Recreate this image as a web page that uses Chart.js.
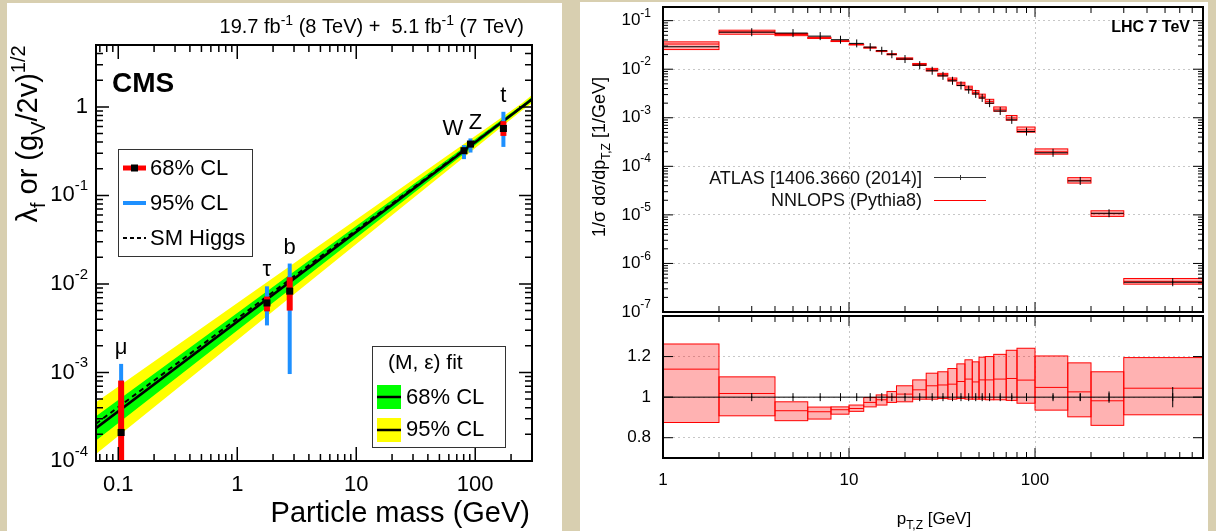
<!DOCTYPE html>
<html>
<head>
<meta charset="utf-8">
<title>couplings and Z pT</title>
<script src="https://cdn.jsdelivr.net/npm/chart.js"></script>
<style>
  html, body { margin: 0; padding: 0; }
  body { width: 1216px; height: 531px; background: #d8cfb0; position: relative; overflow: hidden; }
  .panel { position: absolute; background: #fff; }
  canvas { position: absolute; }
</style>
</head>
<body>
<div class="panel" style="left:7px;top:3px;width:555px;height:528px"></div>
<div class="panel" style="left:580px;top:2px;width:628px;height:529px"></div>
<canvas id="cms" width="555" height="528" style="left:7px;top:3px"></canvas>
<canvas id="spec" width="628" height="315" style="left:580px;top:2px"></canvas>
<canvas id="ratio" width="628" height="221" style="left:580px;top:310px"></canvas>
<script>
const FONT = '"Liberation Sans", Arial, sans-serif'

// ---- left: coupling vs particle mass
const particles = ['μ', 'τ', 'b', 'W', 'Z', 't']
const particleMass = [0.1057, 1.777, 2.76, 80.4, 91.19, 172.5]
const coupling = [2.1e-4, 6.1e-3, 8.3e-3, 0.32, 0.38, 0.57]
const cl68Lo = [5e-5, 4.9e-3, 5.0e-3, 0.30, 0.36, 0.47]
const cl68Hi = [8.1e-4, 7.2e-3, 1.19e-2, 0.34, 0.40, 0.69]
const cl95Lo = [5e-5, 3.4e-3, 9.6e-4, 0.257, 0.305, 0.353]
const cl95Hi = [1.25e-3, 9.4e-3, 1.7e-2, 0.37, 0.44, 0.88]

const bandMass = [0.065, 246.6, 300]
const fitLine = [2.35e-4, 1.0, 1.22]
const smLine = [2.64e-4, 1.0, 1.22]
const greenHi = [3.2e-4, 1.05, 1.29]
const greenLo = [1.7e-4, 0.955, 1.16]
const yellowHi = [4.6e-4, 1.10, 1.36]
const yellowLo = [1.2e-4, 0.91, 1.10]

// ---- right: Z pT spectrum, ATLAS vs NNLOPS
const binEdges = [0, 2, 4, 6, 8, 10, 12, 14, 16, 18, 22, 26, 30, 34, 38, 42, 46, 50, 54, 60, 70, 80, 100, 150, 200, 300, 800]
const atlasXsec = [0.0290, 0.0578, 0.0555, 0.0480, 0.0405, 0.0340, 0.0285, 0.0240, 0.0203, 0.0162, 0.0121, 0.00930, 0.00730,
  0.00578, 0.00462, 0.00378, 0.00310, 0.00256, 0.00200, 0.00138, 0.000905, 0.000520, 0.000190, 5.0e-5, 1.08e-5, 4.1e-7]
const atlasRelErr = [0.010, 0.004, 0.004, 0.004, 0.004, 0.004, 0.004, 0.004, 0.004, 0.005, 0.005, 0.005, 0.005,
  0.006, 0.006, 0.006, 0.006, 0.007, 0.007, 0.008, 0.009, 0.010, 0.012, 0.018, 0.028, 0.050]
const nnlopsRatio = [1.138, 1.018, 0.933, 0.928, 0.938, 0.944, 0.974, 0.987, 1.000, 1.015, 1.036, 1.056, 1.060,
  1.064, 1.077, 1.089, 1.075, 1.085, 1.085, 1.089, 1.092, 1.084, 1.048, 1.026, 0.982, 1.044]
const nnlopsLo = [0.875, 0.908, 0.884, 0.892, 0.916, 0.930, 0.952, 0.961, 0.974, 0.977, 0.990, 0.990, 0.993,
  0.990, 0.993, 0.990, 0.990, 0.990, 0.987, 0.987, 0.984, 0.970, 0.936, 0.903, 0.861, 0.913]
const nnlopsHi = [1.262, 1.100, 0.977, 0.951, 0.952, 0.961, 0.998, 1.011, 1.028, 1.056, 1.085, 1.118, 1.125,
  1.141, 1.164, 1.184, 1.174, 1.197, 1.200, 1.211, 1.231, 1.241, 1.203, 1.169, 1.125, 1.195]

const PT_MIN = 1, PT_MAX = 800

Chart.defaults.font.family = FONT
Chart.defaults.color = '#000'
Chart.defaults.animation = false
Chart.defaults.events = []
Chart.defaults.plugins.legend.display = false
Chart.defaults.plugins.tooltip.enabled = false

const pts = (xs, ys) => xs.map((x, i) => ({ x, y: ys[i] }))
const binCenters = atlasXsec.map((v, i) => (binEdges[i] + binEdges[i + 1]) / 2)

// one horizontal piece per bin, broken by a null
function binSegs(vals) {
  const out = []
  vals.forEach((v, i) => {
    out.push({ x: Math.max(binEdges[i], PT_MIN), y: v }, { x: binEdges[i + 1], y: v }, { x: binEdges[i + 1], y: null })
  })
  return out
}
function vSegs(xs, lo, hi) {
  const out = []
  xs.forEach((x, i) => { out.push({ x, y: lo[i] }, { x, y: hi[i] }, { x, y: null }) })
  return out
}

function logTicks(min, max) {
  const out = []
  for (let e = Math.floor(Math.log10(min)); e <= Math.floor(Math.log10(max)); e++) {
    for (let k = 1; k < 10; k++) {
      const v = k * Math.pow(10, e)
      if (v >= min * 0.9999 && v <= max * 1.0001) out.push({ v, major: k === 1 })
    }
  }
  return out
}
const decadeTicks = (min, max) => logTicks(min, max).filter(t => t.major).map(t => ({ value: t.v }))
function plain(v) {
  const e = Math.round(Math.log10(v))
  return e >= 0 ? String(Math.round(v)) : v.toFixed(-e)
}
// fixed axis size, no extra label padding
function fixSize(w, h) {
  return s => {
    if (w != null) s.width = w
    if (h != null) s.height = h
    s.paddingTop = 0; s.paddingBottom = 0; s.paddingLeft = 0; s.paddingRight = 0
  }
}

// text with sub/superscripts, parts = [[text, 'sub'|'sup'|undefined], ...]
function rich(ctx, parts, x, y, size, align) {
  const small = Math.round(size * 0.68)
  let w = 0
  parts.forEach(p => { ctx.font = (p[1] ? small : size) + 'px ' + FONT; w += ctx.measureText(p[0]).width })
  let cx = align === 'right' ? x - w : align === 'center' ? x - w / 2 : x
  ctx.textAlign = 'left'
  parts.forEach(p => {
    ctx.font = (p[1] ? small : size) + 'px ' + FONT
    const dy = p[1] === 'sup' ? -size * 0.42 : p[1] === 'sub' ? size * 0.28 : 0
    ctx.fillText(p[0], cx, y + dy)
    cx += ctx.measureText(p[0]).width
  })
}

function frameAndTicks(chart, xt, yt, o) {
  const { ctx, chartArea: a, scales: { x, y } } = chart
  ctx.save()
  ctx.strokeStyle = '#000'
  ctx.lineWidth = o.tick
  ctx.beginPath()
  xt.forEach(t => {
    const px = x.getPixelForValue(t.v)
    const l = t.major ? o.xMajor : o.xMinor
    ctx.moveTo(px, a.bottom); ctx.lineTo(px, a.bottom - l)
    ctx.moveTo(px, a.top); ctx.lineTo(px, a.top + l)
  })
  yt.forEach(t => {
    const py = y.getPixelForValue(t.v)
    const l = t.major ? o.yMajor : o.yMinor
    ctx.moveTo(a.left, py); ctx.lineTo(a.left + l, py)
    ctx.moveTo(a.right, py); ctx.lineTo(a.right - l, py)
  })
  ctx.stroke()
  ctx.lineWidth = o.frame
  ctx.strokeRect(a.left, a.top, a.right - a.left, a.bottom - a.top)
  ctx.restore()
}

function logLabels(chart, size, rightX) {
  const { ctx, scales: { y } } = chart
  ctx.fillStyle = '#000'
  ctx.textBaseline = 'middle'
  logTicks(y.min, y.max).filter(t => t.major).forEach(t => {
    const e = Math.round(Math.log10(t.v))
    const py = y.getPixelForValue(t.v)
    if (e === 0) rich(ctx, [['1']], rightX, py, size, 'right')
    else rich(ctx, [['10'], [String(e), 'sup']], rightX, py, size, 'right')
  })
}

// ---------------- left chart
const cmsSets = [
  { data: pts(particleMass, coupling), showLine: false, pointStyle: 'rect', pointRadius: 5,
    pointBackgroundColor: '#000', pointBorderWidth: 0, order: 0 },
  ...particleMass.map((m, i) => ({ data: [{ x: m, y: cl68Lo[i] }, { x: m, y: cl68Hi[i] }],
    borderColor: '#ff0000', borderWidth: 6, pointRadius: 0, order: 1 })),
  ...particleMass.map((m, i) => ({ data: [{ x: m, y: cl95Lo[i] }, { x: m, y: cl95Hi[i] }],
    borderColor: '#1e90ff', borderWidth: 4, pointRadius: 0, order: 2 })),
  { data: pts(bandMass, smLine), borderColor: '#000', borderWidth: 2, borderDash: [5, 4], pointRadius: 0, order: 3 },
  { data: pts(bandMass, fitLine), borderColor: '#000', borderWidth: 2.5, pointRadius: 0, order: 4 },
  { data: pts(bandMass, greenHi), borderColor: 'transparent', pointRadius: 0, order: 5 },
  { data: pts(bandMass, greenLo), borderColor: 'transparent', pointRadius: 0, fill: '-1', backgroundColor: '#00ff00', order: 5 },
  { data: pts(bandMass, yellowHi), borderColor: 'transparent', pointRadius: 0, order: 6 },
  { data: pts(bandMass, yellowLo), borderColor: 'transparent', pointRadius: 0, fill: '-1', backgroundColor: '#ffff00', order: 6 }
]

const cmsDecor = {
  id: 'cmsDecor',
  afterDatasetsDraw(chart) {
    const { ctx, scales: { x, y } } = chart
    frameAndTicks(chart, logTicks(x.min, x.max), logTicks(y.min, y.max),
      { tick: 1.5, frame: 2, xMajor: 14, xMinor: 7, yMajor: 13, yMinor: 7 })
    ctx.save()
    ctx.fillStyle = '#000'
    logLabels(chart, 22, 81)

    ctx.textBaseline = 'middle'
    ctx.textAlign = 'center'
    ctx.font = '22px ' + FONT
    particles.forEach((p, i) => {
      const dx = p === 'W' ? -11 : p === 'Z' ? 5 : 0
      ctx.fillText(p, x.getPixelForValue(particleMass[i]) + dx, y.getPixelForValue(cl95Hi[i]) - 16)
    })

    // axis titles
    ctx.textBaseline = 'alphabetic'
    ctx.save()
    ctx.translate(30, 131)
    ctx.rotate(-Math.PI / 2)
    rich(ctx, [['λ'], ['f', 'sub'], [' or (g'], ['V', 'sub'], ['/2v)'], ['1/2', 'sup']], 0, 0, 29, 'center')
    ctx.restore()
    ctx.font = '29px ' + FONT
    ctx.textAlign = 'right'
    ctx.fillText('Particle mass (GeV)', 523, 519)
    rich(ctx, [['19.7 fb'], ['-1', 'sup'], [' (8 TeV) +  5.1 fb'], ['-1', 'sup'], [' (7 TeV)']], 517, 30, 20, 'right')

    ctx.font = 'bold 28px ' + FONT
    ctx.textAlign = 'left'
    ctx.fillText('CMS', 105, 89)

    // legend: measurements
    ctx.fillStyle = '#fff'
    ctx.fillRect(111, 146, 134, 107)
    ctx.strokeStyle = '#333'
    ctx.lineWidth = 1
    ctx.strokeRect(111.5, 146.5, 134, 107)
    ctx.lineWidth = 5
    ctx.strokeStyle = '#ff0000'
    ctx.beginPath(); ctx.moveTo(116, 165); ctx.lineTo(139, 165); ctx.stroke()
    ctx.fillStyle = '#000'
    ctx.fillRect(124, 161.5, 7, 7)
    ctx.lineWidth = 4
    ctx.strokeStyle = '#1e90ff'
    ctx.beginPath(); ctx.moveTo(116, 200); ctx.lineTo(139, 200); ctx.stroke()
    ctx.lineWidth = 2
    ctx.strokeStyle = '#000'
    ctx.setLineDash([4, 3])
    ctx.beginPath(); ctx.moveTo(116, 235); ctx.lineTo(139, 235); ctx.stroke()
    ctx.setLineDash([])
    ctx.font = '22px ' + FONT
    ctx.textBaseline = 'middle'
    ctx.fillText('68% CL', 143, 166)
    ctx.fillText('95% CL', 143, 201)
    ctx.fillText('SM Higgs', 143, 236)

    // legend: fit bands
    ctx.fillStyle = '#fff'
    ctx.fillRect(365, 343, 133, 101)
    ctx.strokeStyle = '#333'
    ctx.lineWidth = 1
    ctx.strokeRect(365.5, 343.5, 133, 101)
    ctx.fillStyle = '#00ff00'
    ctx.fillRect(370, 382, 24, 24)
    ctx.fillStyle = '#ffff00'
    ctx.fillRect(370, 415, 24, 24)
    ctx.strokeStyle = '#000'
    ctx.lineWidth = 2.5
    ctx.beginPath()
    ctx.moveTo(370, 394); ctx.lineTo(394, 394)
    ctx.moveTo(370, 427); ctx.lineTo(394, 427)
    ctx.stroke()
    ctx.fillStyle = '#000'
    ctx.font = '21px ' + FONT
    ctx.fillText('(M, ε) fit', 381, 360)
    ctx.font = '22px ' + FONT
    ctx.fillText('68% CL', 399, 395)
    ctx.fillText('95% CL', 399, 427)
    ctx.restore()
  }
}

new Chart(document.getElementById('cms'), {
  type: 'line',
  data: { datasets: cmsSets },
  options: {
    responsive: false,
    layout: { padding: { top: 42, right: 30, left: 0, bottom: 0 } },
    scales: {
      x: {
        type: 'logarithmic', min: 0.065, max: 300,
        afterBuildTicks: s => { s.ticks = decadeTicks(0.065, 300) },
        afterFit: fixSize(null, 70),
        grid: { display: false, drawTicks: false },
        border: { display: false },
        ticks: { autoSkip: false, maxRotation: 0, padding: 11, font: { size: 22 }, color: '#000', callback: v => plain(v) }
      },
      y: {
        type: 'logarithmic', min: 1e-4, max: 5,
        afterFit: fixSize(89, null),
        grid: { display: false, drawTicks: false },
        border: { display: false },
        ticks: { display: false }
      }
    }
  },
  plugins: [cmsDecor]
})

// ---------------- right charts
function boxes(lows, highs) {
  return function (chart) {
    const { ctx, chartArea: a, scales: { x, y } } = chart
    ctx.save()
    ctx.beginPath()
    ctx.rect(a.left, a.top, a.right - a.left, a.bottom - a.top)
    ctx.clip()
    ctx.fillStyle = 'rgba(255,0,0,0.3)'
    ctx.strokeStyle = '#ff0000'
    ctx.lineWidth = 1
    lows.forEach((lo, i) => {
      const x0 = x.getPixelForValue(Math.max(binEdges[i], PT_MIN))
      const x1 = x.getPixelForValue(binEdges[i + 1])
      const y0 = y.getPixelForValue(highs[i])
      const y1 = y.getPixelForValue(lo)
      ctx.fillRect(x0, y0, x1 - x0, y1 - y0)
      ctx.strokeRect(x0, y0, x1 - x0, y1 - y0)
    })
    ctx.restore()
  }
}

const nnlopsXsec = atlasXsec.map((v, i) => v * nnlopsRatio[i])
const nnlopsXsecLo = atlasXsec.map((v, i) => v * nnlopsLo[i])
const nnlopsXsecHi = atlasXsec.map((v, i) => v * nnlopsHi[i])
const atlasLo = atlasXsec.map((v, i) => v * (1 - atlasRelErr[i]))
const atlasHi = atlasXsec.map((v, i) => v * (1 + atlasRelErr[i]))
const atlasRatio = atlasXsec.map(() => 1)
const atlasRatioLo = atlasRelErr.map(e => 1 - e)
const atlasRatioHi = atlasRelErr.map(e => 1 + e)

const gridLook = { color: 'rgba(0,0,0,0.22)', lineWidth: 1, drawTicks: false }
const ptTicks = logTicks(PT_MIN, PT_MAX)
const tickLook = { tick: 1, frame: 2, xMajor: 10, xMinor: 6, yMajor: 10, yMinor: 5 }

function atlasSets(vals, lo, hi) {
  return [
    { data: pts(binCenters, vals), showLine: false, pointStyle: 'line', pointRotation: 90, pointRadius: 4,
      pointBorderColor: '#000', pointBorderWidth: 1, order: 0 },
    { data: vSegs(binCenters, lo, hi), borderColor: '#000', borderWidth: 1, pointRadius: 0, order: 0 },
    { data: binSegs(vals), borderColor: '#000', borderWidth: 1, pointRadius: 0, order: 1 }
  ]
}

const specDecor = {
  id: 'specDecor',
  beforeDatasetsDraw: boxes(nnlopsXsecLo, nnlopsXsecHi),
  afterDatasetsDraw(chart) {
    const { ctx, scales: { y } } = chart
    frameAndTicks(chart, ptTicks, logTicks(y.min, y.max), tickLook)
    ctx.save()
    logLabels(chart, 17, 71)
    ctx.textBaseline = 'alphabetic'
    ctx.save()
    ctx.translate(25, 155)
    ctx.rotate(-Math.PI / 2)
    rich(ctx, [['1/σ dσ/dp'], ['T,Z', 'sub'], [' [1/GeV]']], 0, 0, 18, 'center')
    ctx.restore()

    ctx.font = 'bold 16px ' + FONT
    ctx.textAlign = 'right'
    ctx.textBaseline = 'middle'
    ctx.fillText('LHC 7 TeV', 610, 26)

    ctx.font = '18px ' + FONT
    ctx.textBaseline = 'alphabetic'
    ctx.fillStyle = '#111'
    ctx.fillText('ATLAS [1406.3660 (2014)]', 342, 182)
    ctx.fillText('NNLOPS (Pythia8)', 342, 204)
    ctx.lineWidth = 1
    ctx.strokeStyle = '#333'
    ctx.beginPath()
    ctx.moveTo(354, 175.5); ctx.lineTo(406, 175.5)
    ctx.moveTo(380.5, 173); ctx.lineTo(380.5, 178)
    ctx.stroke()
    ctx.strokeStyle = '#ff0000'
    ctx.beginPath(); ctx.moveTo(354, 198.5); ctx.lineTo(406, 198.5); ctx.stroke()
    ctx.restore()
  }
}

new Chart(document.getElementById('spec'), {
  type: 'line',
  data: {
    datasets: [
      ...atlasSets(atlasXsec, atlasLo, atlasHi),
      { data: binSegs(nnlopsXsec), borderColor: '#ff0000', borderWidth: 1, pointRadius: 0, order: 2 }
    ]
  },
  options: {
    responsive: false,
    layout: { padding: { top: 2, right: 3, left: 0, bottom: 0 } },
    scales: {
      x: {
        type: 'logarithmic', min: PT_MIN, max: PT_MAX,
        afterBuildTicks: s => { s.ticks = decadeTicks(PT_MIN, PT_MAX) },
        afterFit: fixSize(null, 1),
        grid: gridLook, border: { display: false, dash: [2, 3] },
        ticks: { display: false }
      },
      y: {
        type: 'logarithmic', min: 1e-7, max: 0.191,
        afterBuildTicks: s => { s.ticks = decadeTicks(1e-7, 0.191) },
        afterFit: fixSize(83, null),
        grid: gridLook, border: { display: false, dash: [2, 3] },
        ticks: { display: false }
      }
    }
  },
  plugins: [specDecor]
})

const ratioTicks = [0.8, 1.0, 1.2]
const ratioDecor = {
  id: 'ratioDecor',
  beforeDatasetsDraw: boxes(nnlopsLo, nnlopsHi),
  afterDatasetsDraw(chart) {
    const { ctx } = chart
    frameAndTicks(chart, ptTicks, ratioTicks.map(v => ({ v, major: true })), tickLook)
    ctx.save()
    ctx.fillStyle = '#000'
    ctx.textBaseline = 'alphabetic'
    rich(ctx, [['p'], ['T,Z', 'sub'], [' [GeV]']], 354, 214, 17, 'center')
    ctx.restore()
  }
}

new Chart(document.getElementById('ratio'), {
  type: 'line',
  data: {
    datasets: [
      ...atlasSets(atlasRatio, atlasRatioLo, atlasRatioHi),
      { data: binSegs(nnlopsRatio), borderColor: '#ff0000', borderWidth: 1, pointRadius: 0, order: 2 }
    ]
  },
  options: {
    responsive: false,
    layout: { padding: { top: 6, right: 3, left: 0, bottom: 0 } },
    scales: {
      x: {
        type: 'logarithmic', min: PT_MIN, max: PT_MAX,
        afterBuildTicks: s => { s.ticks = decadeTicks(PT_MIN, PT_MAX) },
        afterFit: fixSize(null, 73),
        grid: gridLook, border: { display: false, dash: [2, 3] },
        ticks: { autoSkip: false, maxRotation: 0, padding: 12, font: { size: 17 }, color: '#000', callback: v => plain(v) }
      },
      y: {
        type: 'linear', min: 0.7, max: 1.4,
        afterBuildTicks: s => { s.ticks = ratioTicks.map(v => ({ value: v })) },
        afterFit: fixSize(83, null),
        grid: gridLook, border: { display: false, dash: [2, 3] },
        ticks: { padding: 12, font: { size: 17 }, color: '#000', callback: v => (v === 1 ? '1' : v.toFixed(1)) }
      }
    }
  },
  plugins: [ratioDecor]
})
</script>
</body>
</html>
